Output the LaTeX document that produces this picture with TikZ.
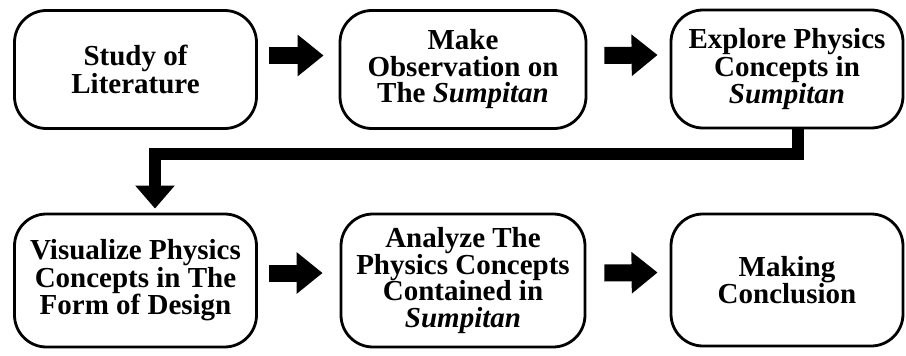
\documentclass[tikz,border=0pt]{standalone}
\usepackage{fontspec}
\setmainfont{Liberation Serif}
\usetikzlibrary{positioning,calc,arrows.meta}
\definecolor{fline}{HTML}{000000}
\tikzset{
  etapa/.style={draw=fline,line width=2.8pt,rounded corners=32pt,fill=white,
    minimum width=242pt,minimum height=118pt,inner sep=0pt,align=center,
    font=\bfseries\fontsize{29}{25}\selectfont},
  folga/.style={font=\bfseries\fontsize{29}{26.5}\selectfont},
  seta/.style={fline,line width=17pt,-{Triangle[length=26pt,width=40pt]}},
  barra/.style={fline,line width=12pt,line join=miter,-{Triangle[length=23pt,width=38pt]}},
}

\begin{document}
\begin{tikzpicture}[x=1pt,y=-1pt]
  \useasboundingbox (0,0) rectangle (906,356);
  % --- first row
  \node[etapa] (estudo) at (135.5,69.5) {Study of\\Literature};
  \node[etapa,folga,minimum width=246pt] (observa) at (463,69.5) {Make\\Observation on\\The \textit{Sumpitan}};
  \node[etapa,minimum width=232pt] (explora) at (787,69) {Explore Physics\\Concepts in\\\textit{Sumpitan}};
  % --- second row
  \node[etapa,minimum height=133pt] (visual) at (135.5,280.5) {Visualize Physics\\Concepts in The\\Form of Design};
  \node[etapa,folga,minimum width=244pt,minimum height=133pt] (analisa) at (463,280.5) {Analyze The\\Physics Concepts\\Contained in\\\textit{Sumpitan}};
  \node[etapa,minimum width=232pt,minimum height=132pt] (conclui) at (787,280) {Making\\Conclusion};
  % --- arrows
  \draw[seta] ([xshift=11pt,yshift=14pt]estudo.east) -- ([xshift=-15pt,yshift=14pt]observa.west);
  \draw[seta] ([xshift=17pt,yshift=14pt]observa.east) -- ([xshift=-12pt,yshift=14pt]explora.west);
  \draw[seta] ([xshift=11pt,yshift=7.5pt]visual.east) -- ([xshift=-17pt,yshift=7.5pt]analisa.west);
  \draw[seta] ([xshift=18pt,yshift=7.5pt]analisa.east) -- ([xshift=-12pt,yshift=7.5pt]conclui.west);
  % --- return line
  \coordinate (volta) at (155,154);
  \draw[barra] ([xshift=11pt,yshift=2pt]explora.south) |- (volta) -- ([yshift=4pt]visual.north -| volta);
\end{tikzpicture}
\end{document}
